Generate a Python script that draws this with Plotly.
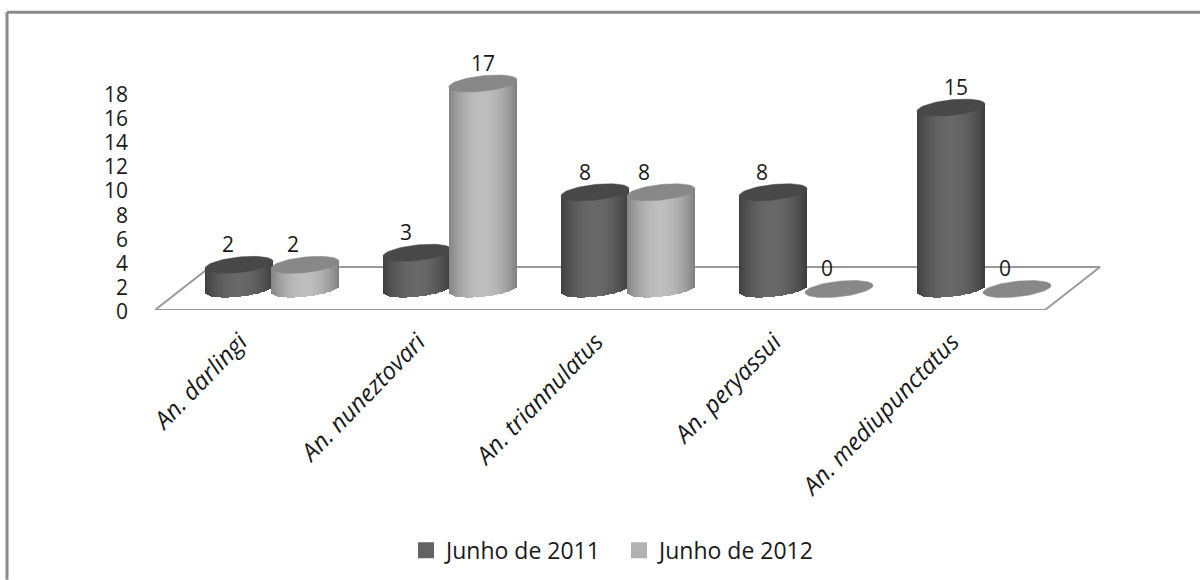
import math
import plotly.graph_objects as go

categories = ["An. darlingi", "An. nuneztovari", "An. triannulatus", "An. peryassui", "An. mediupunctatus"]
series_2011 = [2, 3, 8, 8, 15]
series_2012 = [2, 17, 8, 0, 0]
y_ticks = [0, 2, 4, 6, 8, 10, 12, 14, 16, 18]

# layout constants (pixels)
W, H = 1200, 580
PX_L, PX_B = 155, 310      # screen position of the axis origin
UX, UY = 178.0, 12.1       # pixels per category / per value unit
XR, YR = 5.5, 22
ML, MR = PX_L, W - (PX_L + XR * UX)
MT, MB = PX_B - YR * UY, H - PX_B
RX, RY, SHEAR = 34.0, 7.8, 3.5     # cylinder radii and tilt, px
BASE_LIFT = 21.0 / UY              # cylinder base above the axis origin
NSTRIP = 34
FLOOR_DX, FLOOR_DY = 55.0 / UX, 43.0 / UY
FONT = "Open Sans"


def paper(px, py):
    return (px - ML) / (W - ML - MR), 1 - (py - MT) / (H - MT - MB)


def mix(c0, c1, t):
    return "rgb(%d,%d,%d)" % tuple(round(a + (b - a) * t) for a, b in zip(c0, c1))


def body_color(u, edge_l, centre, edge_r):
    # u in [-1, 1]; smooth transition to the centre tone
    t = math.sin((1 - abs(u)) * math.pi / 2) ** 0.8
    return mix(edge_l if u < 0 else edge_r, centre, t)


fig = go.Figure()

# floor outline
fig.add_trace(go.Scatter(
    x=[0, 5, 5 + FLOOR_DX, FLOOR_DX, 0], y=[0, 0, FLOOR_DY, FLOOR_DY, 0],
    mode="lines", line=dict(color="#9a9a9a", width=2), showlegend=False,
    hoverinfo="skip", zorder=0))

SERIES = [
    (series_2011, 239 / 1.0, (62, 62, 62), (104, 104, 104), (58, 58, 58), "#484848", 1),
    (series_2012, 305 / 1.0, (130, 130, 130), (190, 190, 190), (124, 124, 124), "#888888", 3),
]
for values, first_px, el, ce, er, top_col, z in SERIES:
    centres = [(first_px - PX_L) / UX + i for i in range(len(values))]
    # body drawn as thin vertical strips for the shading
    for s in range(NSTRIP):
        u = -1 + (2 * s + 1) / NSTRIP
        xs = [c + u * RX / UX for c in centres]
        bottoms = [BASE_LIFT + (SHEAR * u - RY * math.sqrt(1 - u * u)) / UY for _ in values]
        heights = [(v + RY * math.sqrt(1 - u * u) / UY) if v > 0 else 0 for v in values]
        fig.add_trace(go.Bar(
            x=xs, y=heights, base=bottoms, width=(2 * RX + 1.2) / NSTRIP / UX * 1.0,
            marker=dict(color=body_color(u, el, ce, er), line=dict(width=0)),
            showlegend=False, hoverinfo="skip", zorder=z))
    # top ellipses
    for c, v in zip(centres, values):
        ts = [2 * math.pi * i / 72 for i in range(73)]
        ex = [c + RX / UX * math.cos(t) for t in ts]
        ey = [v + BASE_LIFT + (SHEAR * math.cos(t) + RY * math.sin(t)) / UY for t in ts]
        fig.add_trace(go.Scatter(
            x=ex, y=ey, mode="lines", fill="toself", fillcolor=top_col,
            line=dict(color=top_col, width=0.5), showlegend=False,
            hoverinfo="skip", zorder=z + 1))

# value labels
LABEL_SHIFT_2011 = [-11, -11, -10, -11, 5]
LABEL_SHIFT_2012 = [-12, 0, -17, -12, -12]
LABEL_RISE = 18
lx, ly, lt = [], [], []
for values, first_px, shifts in ((series_2011, 239, LABEL_SHIFT_2011), (series_2012, 305, LABEL_SHIFT_2012)):
    for i, (v, sh) in enumerate(zip(values, shifts)):
        lx.append((first_px + sh - PX_L) / UX + i)
        ly.append(v + BASE_LIFT + LABEL_RISE / UY)
        lt.append(str(v))
fig.add_trace(go.Scatter(
    x=lx, y=ly, text=lt, mode="text", textposition="middle center",
    textfont=dict(family=FONT, size=21, color="#1a1a1a"),
    showlegend=False, hoverinfo="skip", zorder=9))

# legend entries
for name, col in (("Junho de 2011", "#636363"), ("Junho de 2012", "#b2b2b2")):
    fig.add_trace(go.Scatter(
        x=[None], y=[None], mode="markers", name=name,
        marker=dict(symbol="square", size=16, color=col)))

px0, py0 = paper(7, 12)
px1, py1 = paper(W, H)
fig.update_layout(
    width=W, height=H, autosize=False,
    margin=dict(l=ML, r=MR, t=MT, b=MB, pad=0, autoexpand=False),
    paper_bgcolor="white", plot_bgcolor="white",
    barmode="overlay", bargap=0,
    font=dict(family=FONT, color="#1a1a1a"),
    xaxis=dict(range=[0, XR], tickmode="array", tickvals=[i + 0.5 for i in range(len(categories))],
               ticktext=categories, tickangle=-46, showgrid=False, zeroline=False, showline=False,
               ticks="", ticklabelstandoff=12, ticklabelshift=-4,
               tickfont=dict(family=FONT, size=24, style="italic", color="#1a1a1a")),
    yaxis=dict(range=[0, YR], tickmode="array", tickvals=y_ticks, showgrid=False, zeroline=False,
               showline=False, ticks="", ticklabelstandoff=26, ticklabelshift=2,
               tickfont=dict(family=FONT, size=21, color="#1a1a1a")),
    legend=dict(orientation="h", x=paper(406, 0)[0], xanchor="left", y=paper(0, 529)[1], yanchor="top",
                font=dict(family=FONT, size=23, color="#1a1a1a"), bgcolor="rgba(0,0,0,0)",
                entrywidth=168, entrywidthmode="pixels",
                itemclick=False, itemdoubleclick=False),
    shapes=[
        dict(type="line", xref="paper", yref="paper", x0=px0, y0=py0, x1=px1, y1=py0,
             line=dict(color="#8a8a8a", width=3)),
        dict(type="line", xref="paper", yref="paper", x0=px0, y0=py0, x1=px0, y1=py1,
             line=dict(color="#8a8a8a", width=3)),
    ],
)
fig.write_html("out.html", post_script="document.body.style.margin='0';document.body.style.background='white';", config={"displayModeBar": False})
